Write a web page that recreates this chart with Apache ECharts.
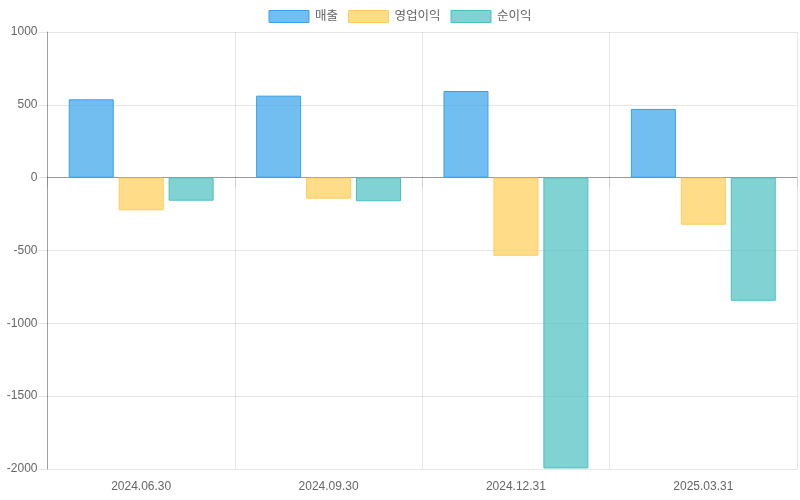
<!DOCTYPE html>
<html lang="ko">
<head>
    <meta charset="UTF-8">
    <title>실적</title>
    <script src="https://cdn.jsdelivr.net/npm/echarts@6/dist/echarts.min.js"></script>
    <style>
        html, body { margin: 0; padding: 0; background: #fff; }
        #main { width: 800px; height: 500px; }
    </style>
</head>
<body>
<div id="main"></div>
<script>
    var periods = ['2024.06.30', '2024.09.30', '2024.12.31', '2025.03.31'];
    var sales = [538, 563, 595, 472];
    var operatingProfit = [-224, -144, -536, -323];
    var netProfit = [-158, -162, -1996, -845];

    var font = '"Liberation Sans", Arial, "Noto Sans CJK KR", sans-serif';
    var gridColor = 'rgba(0,0,0,0.1)';
    var zeroColor = 'rgba(0,0,0,0.25)';

    function barSeries(name, data, rgb) {
        return {
            name: name,
            type: 'bar',
            data: data,
            barWidth: 45,
            barGap: '11%',
            itemStyle: {
                color: 'rgba(' + rgb + ',0.7)',
                borderColor: 'rgb(' + rgb + ')',
                borderWidth: 1
            }
        };
    }

    var myChart = echarts.init(document.getElementById('main'));
    var option = {
        animation: false,
        textStyle: { fontFamily: font },
        legend: {
            top: 5,
            left: 'center',
            icon: 'rect',
            itemWidth: 40,
            itemHeight: 12,
            itemGap: 10,
            itemStyle: { borderWidth: 1 },
            textStyle: { fontSize: 12.5, color: '#666', fontFamily: font, padding: [0, 0, 0, 1] },
            data: ['매출', '영업이익', '순이익']
        },
        grid: { left: 47.5, right: 3, top: 32, bottom: 31, containLabel: false },
        xAxis: {
            type: 'category',
            data: periods,
            boundaryGap: true,
            axisLine: { show: true, lineStyle: { color: 'rgba(0,0,0,0.2)' } },
            axisTick: { show: true, length: 10, alignWithLabel: false, lineStyle: { color: gridColor } },
            axisLabel: { color: '#666', fontSize: 12, margin: 12, fontFamily: font },
            splitLine: { show: true, lineStyle: { color: gridColor } }
        },
        yAxis: {
            type: 'value',
            min: -2000,
            max: 1000,
            interval: 500,
            axisLine: { show: true, lineStyle: { color: 'rgba(0,0,0,0.3)' } },
            axisTick: { show: true, length: 9, lineStyle: { color: gridColor } },
            axisLabel: {
                color: '#666', fontSize: 12, margin: 10, fontFamily: font,
                formatter: function (v) { return String(v); }
            },
            splitLine: {
                show: true,
                lineStyle: { color: [gridColor, gridColor, gridColor, gridColor, zeroColor, gridColor, gridColor] }
            }
        },
        series: [
            barSeries('매출', sales, '54,162,235'),
            barSeries('영업이익', operatingProfit, '255,205,86'),
            barSeries('순이익', netProfit, '75,192,192')
        ]
    };
    myChart.setOption(option);
</script>
</body>
</html>
